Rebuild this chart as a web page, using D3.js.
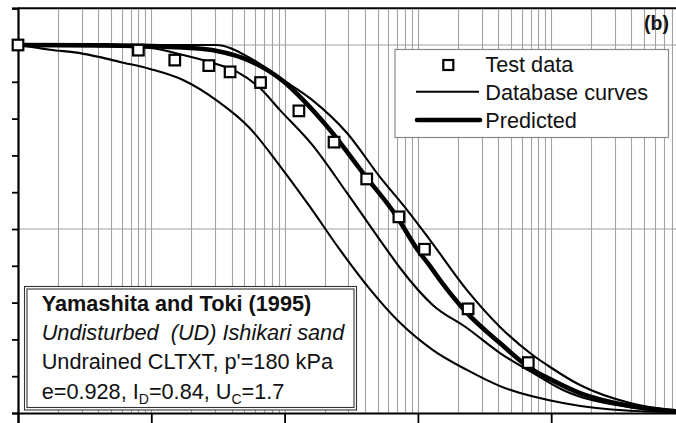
<!DOCTYPE html>
<html>
<head>
<meta charset="utf-8">
<script src="https://cdn.jsdelivr.net/npm/d3@7"></script>
<style>
  html, body { margin: 0; padding: 0; background: #fff; overflow: hidden; }
  svg { display: block; font-family: "Liberation Sans", Arial, Helvetica, sans-serif; }
</style>
</head>
<body>
<svg id="chart" width="676" height="423"></svg>
<script>
// Shear strain (%) vs normalised shear modulus G/Gmax

// Test data
const testStrain = [0.0001, 0.0008, 0.0015, 0.0027, 0.0039, 0.0066, 0.0128, 0.0235, 0.0413, 0.072, 0.112, 0.238, 0.673];
const testRatio  = [1.000, 0.986, 0.959, 0.944, 0.927, 0.898, 0.821, 0.736, 0.636, 0.533, 0.445, 0.283, 0.137];

// Database curves (three)
const dbLowStrain = [0.0001, 0.000146, 0.000174, 0.000292, 0.000412, 0.000582, 0.000977, 0.00173, 0.00311, 0.00549, 0.00924, 0.01552, 0.02606, 0.04375, 0.0735, 0.1297, 0.2333, 0.413, 1.225, 3.90, 10];
const dbLowRatio  = [1.000, 0.991, 0.987, 0.978, 0.967, 0.954, 0.935, 0.905, 0.849, 0.774, 0.671, 0.560, 0.443, 0.336, 0.245, 0.171, 0.117, 0.073, 0.027, 0.006, 0.002];

const dbMidStrain = [0.0001, 0.000412, 0.000977, 0.00173, 0.00311, 0.0044, 0.00653, 0.00924, 0.01636, 0.02938, 0.0586, 0.0735, 0.1297, 0.2333, 0.413, 0.729, 1.225, 3.90, 10];
const dbMidRatio  = [1.000, 0.997, 0.992, 0.973, 0.948, 0.927, 0.883, 0.823, 0.726, 0.598, 0.443, 0.394, 0.293, 0.231, 0.163, 0.109, 0.0625, 0.016, 0.003];

const dbHighStrain = [0.0001, 0.001, 0.00305, 0.00549, 0.00973, 0.01607, 0.02938, 0.052, 0.0828, 0.1233, 0.2333, 0.413, 0.693, 0.98, 1.644, 3.90, 10];
const dbHighRatio  = [1.000, 1.000, 1.000, 0.965, 0.905, 0.851, 0.761, 0.641, 0.552, 0.470, 0.334, 0.234, 0.163, 0.125, 0.076, 0.027, 0.004];

// Predicted curve
const predStrain = [0.0001, 0.000412, 0.000977, 0.00173, 0.00311, 0.00549, 0.00973, 0.01374, 0.02193, 0.03873, 0.0697, 0.0984, 0.1233, 0.1466, 0.2333, 0.413, 0.693, 0.98, 1.644, 3.90, 10];
const predRatio  = [1.000, 0.999, 0.997, 0.993, 0.984, 0.957, 0.902, 0.851, 0.769, 0.652, 0.533, 0.446, 0.399, 0.361, 0.272, 0.190, 0.122, 0.092, 0.054, 0.019, 0.003];

// Axis ticks
const strainTicks = [0.0001, 0.001, 0.01, 0.1, 1, 10];
const ratioTicks  = [0, 0.1, 0.2, 0.3, 0.4, 0.5, 0.6, 0.7, 0.8, 0.9, 1.0, 1.1];
const ratioGrid   = [0.5, 1.0];

// Legend and annotation text
const legendLabels = ["Test data", "Database curves", "Predicted"];
const panelTag = "(b)";

const svg = d3.select("#chart");
const x = d3.scaleLog().domain([0.0001, 10]).range([18, 684.5]);
const y = d3.scaleLinear().domain([0, 1.1]).range([413, 8.2]);

const [x0, x1] = x.range();
const [yb, yt] = y.range();

// Log grid: every 1..9 step in each decade
const gridStrain = [];
for (let e = -4; e < 1; e++) {
  for (let m = 1; m <= 9; m++) gridStrain.push(m * Math.pow(10, e));
}
gridStrain.push(10);

const grid = svg.append("g").attr("stroke", "#a3a3a3").attr("stroke-width", 1.1);
grid.selectAll("line.v").data(gridStrain).join("line")
  .attr("class", "v")
  .attr("x1", d => Math.round(x(d)) + 0.5).attr("x2", d => Math.round(x(d)) + 0.5)
  .attr("y1", yt).attr("y2", yb);
grid.selectAll("line.h").data(ratioGrid).join("line")
  .attr("class", "h")
  .attr("x1", x0).attr("x2", x1)
  .attr("y1", d => y(d)).attr("y2", d => y(d));

// Frame top
svg.append("line").attr("x1", x0).attr("x2", x1).attr("y1", yt).attr("y2", yt)
  .attr("stroke", "#000").attr("stroke-width", 2);

// Curves
svg.append("clipPath").attr("id", "plotClip")
  .append("rect").attr("x", x0).attr("y", yt).attr("width", x1 - x0).attr("height", yb - yt);

const line = d3.line().x(d => x(d[0])).y(d => y(d[1])).curve(d3.curveMonotoneX);
const zip = (a, b) => a.map((v, i) => [v, b[i]]);

const curves = svg.append("g").attr("clip-path", "url(#plotClip)").attr("fill", "none")
  .attr("stroke", "#000").attr("stroke-linejoin", "round").attr("stroke-linecap", "round");
[[dbLowStrain, dbLowRatio], [dbMidStrain, dbMidRatio], [dbHighStrain, dbHighRatio]].forEach(([s, r]) => {
  curves.append("path").attr("d", line(zip(s, r))).attr("stroke-width", 2.1);
});
curves.append("path").attr("d", line(zip(predStrain, predRatio))).attr("stroke-width", 4.6);

// Axes
const axisLeft = svg.append("g").attr("transform", `translate(${x0},0)`)
  .call(d3.axisLeft(y).tickValues(ratioTicks).tickSize(6).tickFormat(""));
const axisBottom = svg.append("g").attr("transform", `translate(0,${yb})`)
  .call(d3.axisBottom(x).tickValues(strainTicks).tickSize(10).tickFormat(""));
[axisLeft, axisBottom].forEach(g => {
  g.select(".domain").attr("stroke", "#000").attr("stroke-width", 2.2);
  g.selectAll(".tick line").attr("stroke", "#000").attr("stroke-width", 1.8);
});

// Test data markers
svg.append("g").selectAll("rect").data(zip(testStrain, testRatio)).join("rect")
  .attr("x", d => x(d[0]) - 5.3).attr("y", d => y(d[1]) - 5.3)
  .attr("width", 10.6).attr("height", 10.6)
  .attr("fill", "#fff").attr("stroke", "#000").attr("stroke-width", 2.2);

// Legend
const lg = svg.append("g");
lg.append("rect").attr("x", 395).attr("y", 49.5).attr("width", 273.5).attr("height", 88)
  .attr("fill", "#fff").attr("stroke", "#8a8a8a").attr("stroke-width", 1.2);
lg.append("rect").attr("x", 443.3).attr("y", 60).attr("width", 10).attr("height", 10)
  .attr("fill", "#fff").attr("stroke", "#000").attr("stroke-width", 2.2);
lg.append("line").attr("x1", 416).attr("x2", 479).attr("y1", 91.7).attr("y2", 91.7)
  .attr("stroke", "#000").attr("stroke-width", 2);
lg.append("line").attr("x1", 417).attr("x2", 480).attr("y1", 120).attr("y2", 120)
  .attr("stroke", "#000").attr("stroke-width", 4.6).attr("stroke-linecap", "round");
lg.selectAll("text").data(legendLabels).join("text")
  .attr("x", 485.3).attr("y", (d, i) => 71.5 + i * 28.3)
  .attr("font-size", 21.7).attr("fill", "#111").text(d => d);

// Panel tag
svg.append("text").attr("x", 669).attr("y", 30).attr("text-anchor", "end")
  .attr("font-size", 19.5).attr("font-weight", "bold").attr("fill", "#111").text(panelTag);

// Info box
const ib = svg.append("g");
ib.append("rect").attr("x", 24.5).attr("y", 286.5).attr("width", 332).attr("height", 123.5)
  .attr("fill", "#fff").attr("stroke", "#333").attr("stroke-width", 1.1);
ib.append("rect").attr("x", 27).attr("y", 289).attr("width", 327).attr("height", 118.5)
  .attr("fill", "#fff").attr("stroke", "#333").attr("stroke-width", 1.1);

const tx = 41.7;
ib.append("text").attr("x", tx).attr("y", 311).attr("font-size", 21.7).attr("font-weight", "bold")
  .attr("fill", "#111").text("Yamashita and Toki (1995)");
ib.append("text").attr("x", tx).attr("y", 339.5).attr("font-size", 21.7).attr("font-style", "italic")
  .attr("fill", "#111").attr("xml:space", "preserve").style("white-space", "pre")
  .text("Undisturbed  (UD) Ishikari sand");
ib.append("text").attr("x", tx).attr("y", 369).attr("font-size", 21.7)
  .attr("fill", "#111").text("Undrained CLTXT, p'=180 kPa");
const t4 = ib.append("text").attr("x", tx).attr("y", 398.5).attr("font-size", 21.7).attr("fill", "#111");
t4.append("tspan").text("e=0.928, I");
t4.append("tspan").attr("font-size", 14).attr("dy", 5).text("D");
t4.append("tspan").attr("dy", -5).text("=0.84, U");
t4.append("tspan").attr("font-size", 14).attr("dy", 5).text("C");
t4.append("tspan").attr("dy", -5).text("=1.7");
</script>
</body>
</html>
